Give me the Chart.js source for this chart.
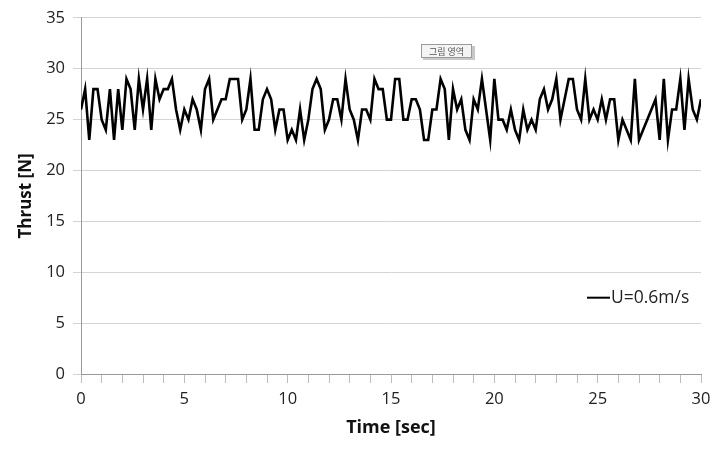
<!DOCTYPE html>
<html>
<head>
<meta charset="utf-8">
<script src="https://cdn.jsdelivr.net/npm/chart.js@4.4.0/dist/chart.umd.min.js"></script>
<style>
  html, body { margin: 0; padding: 0; background: #fff; }
  #wrap { width: 721px; height: 449px; }
</style>
</head>
<body>
<div id="wrap"><canvas id="ThrustChart" width="721" height="449"></canvas></div>
<script>
// sampled every 0.2 sec, 0 .. 30 sec
var timeStep = 0.2;
var thrust = [
    26, 28, 23, 28, 28, 25, 24, 28, 23, 28, 24, 29, 28, 24, 29, 26, 29, 24, 29, 27, 28, 28, 29, 26, 24,
    26, 25, 27, 26, 24, 28, 29, 25, 26, 27, 27, 29, 29, 29, 25, 26, 29, 24, 24, 27, 28, 27, 24, 26, 26, 23,
    24, 23, 26, 23, 25, 28, 29, 28, 24, 25, 27, 27, 25, 29, 26, 25, 23, 26, 26, 25, 29, 28, 28, 25, 25,
    29, 29, 25, 25, 27, 27, 26, 23, 23, 26, 26, 29, 28, 23, 28, 26, 27, 24, 23, 27, 26, 29, 26, 23, 29,
    25, 25, 24, 26, 24, 23, 26, 24, 25, 24, 27, 28, 26, 27, 29, 25, 27, 29, 29, 26, 25, 29, 25, 26, 25,
    27, 25, 27, 27, 23, 25, 24, 23, 29, 23, 24, 25, 26, 27, 23, 29, 23, 26, 26, 29, 24, 29, 26, 25, 27
];
var seriesLabel = 'U=0.6m/s';
var xTitle = 'Time [sec]';
var yTitle = 'Thrust [N]';
var tipText = '그림 영역';

var points = thrust.map(function (v, i) {
    return { x: Math.round(i * timeStep * 10) / 10, y: v };
});

var font = "'Open Sans', 'Noto Sans', sans-serif";

// legend sits inside the plot, like the spreadsheet original
var insideLegend = {
    id: 'insideLegend',
    afterDraw: function (chart) {
        var ctx = chart.ctx;
        var y = chart.scales.y.getPixelForValue(7.5);
        ctx.save();
        ctx.strokeStyle = '#000';
        ctx.lineWidth = 2;
        ctx.beginPath();
        ctx.moveTo(587, y);
        ctx.lineTo(610, y);
        ctx.stroke();
        ctx.fillStyle = '#222';
        ctx.font = '17.5px ' + font;
        ctx.textBaseline = 'middle';
        ctx.fillText(chart.data.datasets[0].label, 611, y);

        // the little "plot area" hover tag from the screenshot
        ctx.fillStyle = '#c8c8c8';
        ctx.fillRect(423, 46, 52, 14);
        ctx.fillStyle = '#f4f4f4';
        ctx.fillRect(421, 44, 51, 14);
        ctx.strokeStyle = '#9a9a9a';
        ctx.lineWidth = 1;
        ctx.strokeRect(421.5, 44.5, 50, 13);
        ctx.fillStyle = '#555';
        ctx.font = "9px 'Noto Sans CJK KR'";
        ctx.textAlign = 'center';
        ctx.fillText(tipText, 446.5, 51.5);
        ctx.restore();
    }
};

new Chart(document.getElementById('ThrustChart'), {
    type: 'line',
    data: {
        datasets: [{
            label: seriesLabel,
            data: points,
            borderColor: '#000',
            borderWidth: 2.6,
            pointRadius: 0,
            tension: 0,
            fill: false
        }]
    },
    options: {
        responsive: false,
        animation: false,
        layout: { padding: { top: 15, right: 20, left: 0, bottom: 0 } },
        plugins: {
            legend: { display: false },
            tooltip: { enabled: false }
        },
        scales: {
            x: {
                type: 'linear',
                min: 0,
                max: 30,
                afterFit: function (s) { s.height = 75; },
                afterBuildTicks: function (s) {
                    var t = [];
                    for (var i = 0; i <= 30; i++) t.push({ value: i });
                    s.ticks = t;
                },
                ticks: {
                    autoSkip: false,
                    maxRotation: 0,
                    padding: 6,
                    color: '#222',
                    font: { family: font, size: 16.5 },
                    callback: function (v) { return v % 5 === 0 ? v : ''; }
                },
                grid: { drawOnChartArea: false, drawTicks: true, tickLength: 9, color: '#bdbdbd' },
                border: { color: '#9a9a9a', width: 1 },
                title: {
                    display: true,
                    text: xTitle,
                    color: '#111',
                    font: { family: font, size: 18, weight: 'bold' },
                    padding: { top: 0, bottom: 10 }
                }
            },
            y: {
                min: 0,
                max: 35,
                afterFit: function (s) { s.width = 81; },
                ticks: {
                    stepSize: 5,
                    padding: 8,
                    color: '#222',
                    font: { family: font, size: 16.5 }
                },
                grid: { color: '#d4d4d4', tickLength: 8, lineWidth: 1 },
                border: { color: '#9a9a9a', width: 1 },
                title: {
                    display: true,
                    text: yTitle,
                    color: '#111',
                    font: { family: font, size: 17, weight: 'bold' },
                    padding: { top: 16, bottom: 0 }
                }
            }
        }
    },
    plugins: [insideLegend]
});
</script>
</body>
</html>
